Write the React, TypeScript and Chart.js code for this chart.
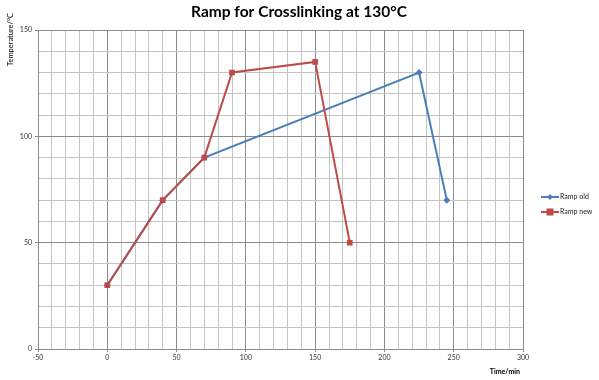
import React, { useEffect, useRef } from "react";
import { Chart, registerables } from "chart.js";

Chart.register(...registerables);

const oldTimes = [0, 40, 70, 225, 245];
const oldTemps = [30, 70, 90, 130, 70];
const newTimes = [0, 40, 70, 90, 150, 175];
const newTemps = [30, 70, 90, 130, 135, 50];
const xMin = -50;
const xMax = 300;
const yMin = 0;
const yMax = 150;
const titleText = "Ramp for Crosslinking at 130°C";
const xTitle = "Time/min";
const yTitle = "Temperature/°C";
const seriesNames = ["Ramp old", "Ramp new"];

const BLUE = "#4a7ebb";
const RED = "#be4b48";
const FONT = "Lato, 'Open Sans', sans-serif";

const decorPlugin = {
  id: "decor",
  afterDraw(chart: any) {
    const ctx = chart.ctx;
    ctx.save();
    ctx.fillStyle = "#000";
    ctx.font = `bold 15.5px ${FONT}`;
    ctx.textAlign = "center";
    ctx.textBaseline = "middle";
    ctx.fillText(titleText, 299, 12);

    ctx.font = `bold 7px ${FONT}`;
    ctx.textAlign = "right";
    ctx.fillText(xTitle, 520, 372);

    ctx.save();
    ctx.translate(11, 13);
    ctx.rotate(-Math.PI / 2);
    ctx.font = `7.5px ${FONT}`;
    ctx.textAlign = "right";
    ctx.fillText(yTitle, 0, 0);
    ctx.restore();

    // legend
    const items = [
      { name: seriesNames[0], color: BLUE, style: "rectRot", r: 3, y: 197 },
      { name: seriesNames[1], color: RED, style: "rect", r: 3.5, y: 212 },
    ];
    items.forEach((it) => {
      ctx.strokeStyle = it.color;
      ctx.lineWidth = 2;
      ctx.beginPath();
      ctx.moveTo(541, it.y);
      ctx.lineTo(559, it.y);
      ctx.stroke();
      ctx.fillStyle = it.color;
      if (it.style === "rect") {
        ctx.fillRect(550 - it.r, it.y - it.r, it.r * 2, it.r * 2);
      } else {
        ctx.beginPath();
        ctx.moveTo(550, it.y - it.r);
        ctx.lineTo(550 + it.r, it.y);
        ctx.lineTo(550, it.y + it.r);
        ctx.lineTo(550 - it.r, it.y);
        ctx.closePath();
        ctx.fill();
      }
      ctx.fillStyle = "#222";
      ctx.font = `7px ${FONT}`;
      ctx.textAlign = "left";
      ctx.fillText(it.name, 560, it.y);
    });
    ctx.restore();
  },
};

export default function App() {
  const ref = useRef<HTMLCanvasElement>(null);
  useEffect(() => {
    document.body.style.margin = "0";
    const canvas = ref.current!;
    const gridColor = (c: any) =>
      c.tick && c.tick.value % 50 === 0 ? "#8c8c8c" : "#c4c4c4";
    const tickColor = (c: any) =>
      c.tick && c.tick.value % 50 === 0 ? "#8c8c8c" : "rgba(0,0,0,0)";
    const chart = new Chart(canvas, {
      type: "line",
      data: {
        datasets: [
          {
            label: seriesNames[0],
            data: oldTimes.map((x, i) => ({ x, y: oldTemps[i] })),
            borderColor: BLUE,
            backgroundColor: BLUE,
            borderWidth: 2,
            pointStyle: "rectRot",
            pointRadius: 3.5,
            pointBorderWidth: 0,
            tension: 0,
            order: 2,
          },
          {
            label: seriesNames[1],
            data: newTimes.map((x, i) => ({ x, y: newTemps[i] })),
            borderColor: RED,
            backgroundColor: RED,
            borderWidth: 2,
            pointStyle: "rect",
            pointRadius: 4,
            pointBorderWidth: 0,
            tension: 0,
            order: 1,
          },
        ],
      },
      options: {
        animation: false,
        responsive: false,
        layout: { padding: { left: 0, right: 76, top: 30, bottom: 0 } },
        plugins: { legend: { display: false }, title: { display: false }, tooltip: { enabled: false } },
        scales: {
          x: {
            type: "linear",
            min: xMin,
            max: xMax,
            afterFit: (s: any) => {
              s.height = 31;
            },
            ticks: {
              stepSize: 10,
              autoSkip: false,
              maxRotation: 0,
              color: "#333",
              font: { size: 7, family: FONT },
              padding: 2,
              callback: (v: any) => (Number(v) % 50 === 0 ? String(v) : ""),
            },
            grid: { color: gridColor, tickColor, tickLength: 3, lineWidth: 1 },
            border: { color: "#8c8c8c" },
          },
          y: {
            type: "linear",
            min: yMin,
            max: yMax,
            afterFit: (s: any) => {
              s.width = 38;
            },
            ticks: {
              stepSize: 10,
              autoSkip: false,
              color: "#333",
              font: { size: 7, family: FONT },
              padding: 3,
              callback: (v: any) => (Number(v) % 50 === 0 ? String(v) : ""),
            },
            grid: { color: gridColor, tickColor, tickLength: 3, lineWidth: 1 },
            border: { color: "#8c8c8c" },
          },
        },
      },
      plugins: [decorPlugin],
    });
    return () => chart.destroy();
  }, []);
  return <canvas ref={ref} width={599} height={380} style={{ display: "block" }} />;
}
